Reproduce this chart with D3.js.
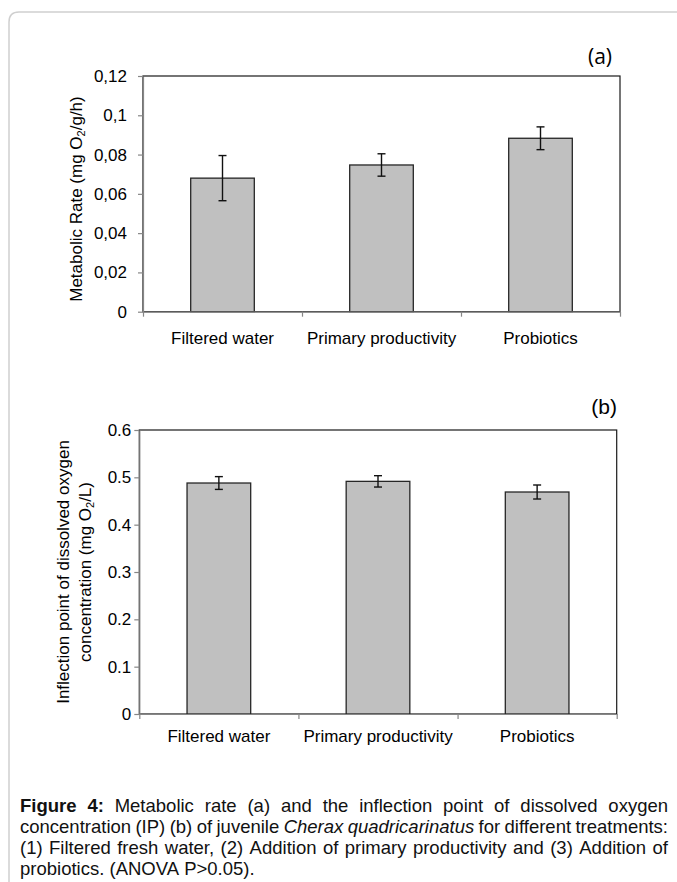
<!DOCTYPE html>
<html>
<head>
<meta charset="utf-8">
<script src="https://cdn.jsdelivr.net/npm/d3@7"></script>
<style>
  body { margin: 0; background: #fff; }
  svg { display: block; }
</style>
</head>
<body>
<script>
// data
const categories = ['Filtered water', 'Primary productivity', 'Probiotics'];
const metabolicRate = [0.068, 0.0747, 0.0883];
const metabolicErr = [0.0115, 0.0057, 0.0058];
const inflectionPoint = [0.488, 0.4915, 0.469];
const inflectionErr = [0.0135, 0.012, 0.0148];
const ticksA = [0, 0.02, 0.04, 0.06, 0.08, 0.1, 0.12];
const tickLabelsA = ['0', '0,02', '0,04', '0,06', '0,08', '0,1', '0,12'];
const ticksB = [0, 0.1, 0.2, 0.3, 0.4, 0.5, 0.6];
const tickLabelsB = ['0', '0.1', '0.2', '0.3', '0.4', '0.5', '0.6'];

// caption, word by word (b = bold, i = italic)
const captionLines = [
  { justify: true, words: [['Figure', 'b'], ['4:', 'b'], 'Metabolic', 'rate', '(a)', 'and', 'the', 'inflection', 'point', 'of', 'dissolved', 'oxygen'] },
  { justify: true, words: ['concentration', '(IP)', '(b)', 'of', 'juvenile', ['Cherax', 'i'], ['quadricarinatus', 'i'], 'for', 'different', 'treatments:'] },
  { justify: true, words: ['(1)', 'Filtered', 'fresh', 'water,', '(2)', 'Addition', 'of', 'primary', 'productivity', 'and', '(3)', 'Addition', 'of'] },
  { justify: false, words: ['probiotics.', '(ANOVA', 'P>0.05).'] }
];

const W = 677, H = 882;
const font = 'Liberation Sans, Arial, sans-serif';

const svg = d3.select('body').append('svg')
  .attr('width', W)
  .attr('height', H)
  .style('font-family', font);

// page frame (rounded top-left corner, runs off the right and bottom)
svg.append('path')
  .attr('d', 'M9,' + H + ' L9,22 Q9,12 19,12 L' + W + ',12')
  .attr('fill', 'none')
  .attr('stroke', '#cfcfcf')
  .attr('stroke-width', 1.5);

function drawPanel(p) {
  const x = d3.scaleBand().domain(categories).range([p.left, p.right])
    .paddingInner(0.6).paddingOuter(0.3);
  const xEdge = d3.scaleLinear().domain([0, categories.length]).range([p.left, p.right]);
  const y = d3.scaleLinear().domain([0, p.max]).range([p.bottom, p.top]);
  const g = svg.append('g');

  // plot area border
  g.append('rect')
    .attr('x', p.left).attr('y', p.top)
    .attr('width', p.right - p.left).attr('height', p.bottom - p.top)
    .attr('fill', 'none').attr('stroke', '#1a1a1a').attr('stroke-width', 1.2);

  // bars
  g.selectAll('rect.bar')
    .data(p.values)
    .join('rect')
      .attr('class', 'bar')
      .attr('x', (d, i) => x(categories[i]))
      .attr('y', d => y(d))
      .attr('width', x.bandwidth())
      .attr('height', d => y(0) - y(d))
      .attr('fill', '#c0c0c0')
      .attr('stroke', '#262626')
      .attr('stroke-width', 1.3);

  // error bars
  const eb = g.selectAll('g.err')
    .data(p.values)
    .join('g')
      .attr('class', 'err')
      .attr('stroke', '#111')
      .attr('stroke-width', 1.4);
  const cx = i => x(categories[i]) + x.bandwidth() / 2;
  eb.append('line')
    .attr('x1', (d, i) => cx(i)).attr('x2', (d, i) => cx(i))
    .attr('y1', (d, i) => y(d + p.errs[i])).attr('y2', (d, i) => y(d - p.errs[i]));
  eb.append('line')
    .attr('x1', (d, i) => cx(i) - 4).attr('x2', (d, i) => cx(i) + 4)
    .attr('y1', (d, i) => y(d + p.errs[i])).attr('y2', (d, i) => y(d + p.errs[i]));
  eb.append('line')
    .attr('x1', (d, i) => cx(i) - 4).attr('x2', (d, i) => cx(i) + 4)
    .attr('y1', (d, i) => y(d - p.errs[i])).attr('y2', (d, i) => y(d - p.errs[i]));

  // y axis
  const yAxis = g.append('g')
    .attr('transform', 'translate(' + p.left + ',0)')
    .call(d3.axisLeft(y).tickValues(p.ticks).tickFormat((d, i) => p.labels[i])
      .tickSize(5).tickSizeOuter(0).tickPadding(p.labelGap));
  yAxis.selectAll('path, line').attr('stroke', '#868686').attr('stroke-width', 1.2);
  yAxis.selectAll('text').attr('font-size', 17).attr('font-family', font).attr('fill', '#000');

  // x axis: ticks on category edges
  const xAxis = g.append('g')
    .attr('transform', 'translate(0,' + p.bottom + ')')
    .call(d3.axisBottom(xEdge).tickValues(d3.range(categories.length + 1))
      .tickFormat('').tickSize(5).tickSizeOuter(0));
  xAxis.selectAll('path, line').attr('stroke', '#868686').attr('stroke-width', 1.2);

  // category labels
  const xLab = g.append('g')
    .attr('transform', 'translate(0,' + p.bottom + ')')
    .call(d3.axisBottom(x).tickSize(0).tickPadding(p.xLabelGap));
  xLab.select('.domain').remove();
  xLab.selectAll('text').attr('font-size', 17).attr('font-family', font).attr('fill', '#000');

  // y axis title (rotated, possibly several lines); objects are subscripts
  p.title.forEach((line, k) => {
    const t = g.append('text')
      .attr('transform', 'translate(' + p.titleX[k] + ',' + p.titleY + ') rotate(-90)')
      .attr('text-anchor', 'middle')
      .attr('font-size', 17)
      .attr('dy', '0.35em');
    line.forEach(seg => {
      if (typeof seg === 'object') {
        t.append('tspan').attr('font-size', 11).attr('baseline-shift', '-30%').text(seg.s);
      } else {
        t.append('tspan').text(seg);
      }
    });
  });

  // panel tag
  g.append('text')
    .attr('x', p.tagX).attr('y', p.tagY)
    .attr('text-anchor', 'end')
    .attr('font-size', 21)
    .attr('font-family', p.tagFont)
    .text(p.tag);
}

drawPanel({
  left: 143, right: 620, top: 76, bottom: 311.7,
  max: 0.12, ticks: ticksA, labels: tickLabelsA, labelGap: 11,
  values: metabolicRate, errs: metabolicErr, xLabelGap: 20,
  title: [['Metabolic Rate (mg O', { s: '2' }, '/g/h)']],
  titleX: [76], titleY: 199,
  tag: '(a)', tagX: 612, tagY: 64, tagFont: 'Open Sans, sans-serif'
});

drawPanel({
  left: 139.3, right: 616.7, top: 430, bottom: 714,
  max: 0.6, ticks: ticksB, labels: tickLabelsB, labelGap: 3,
  values: inflectionPoint, errs: inflectionErr, xLabelGap: 15.5,
  title: [['Inflection point of dissolved oxygen'], ['concentration (mg O', { s: '2' }, '/L)']],
  titleX: [63, 85], titleY: 572,
  tag: '(b)', tagX: 617, tagY: 414, tagFont: font
});

// caption, justified by hand
const capLeft = 20, capRight = 668, capSize = 18.5, capLead = 21, capTop = 812;
captionLines.forEach((line, li) => {
  const yy = capTop + li * capLead;
  const nodes = line.words.map(w => {
    const word = Array.isArray(w) ? w[0] : w;
    const st = Array.isArray(w) ? w[1] : '';
    return svg.append('text')
      .attr('y', yy)
      .attr('font-size', capSize)
      .attr('font-weight', st === 'b' ? 'bold' : 'normal')
      .attr('font-style', st === 'i' ? 'italic' : 'normal')
      .attr('fill', '#111')
      .text(word);
  });
  const widths = nodes.map(n => n.node().getComputedTextLength());
  const total = d3.sum(widths);
  const gaps = nodes.length - 1;
  const space = capSize * 0.278;
  let gap = line.justify ? (capRight - capLeft - total) / gaps : space;
  let scale = 1;
  if (gap < 3) {
    gap = 3;
    scale = (capRight - capLeft - gap * gaps) / total;
  }
  let cur = capLeft;
  nodes.forEach((n, i) => {
    n.attr('x', cur);
    if (scale !== 1) {
      n.attr('textLength', widths[i] * scale).attr('lengthAdjust', 'spacingAndGlyphs');
    }
    cur += widths[i] * scale + gap;
  });
});
</script>
</body>
</html>
